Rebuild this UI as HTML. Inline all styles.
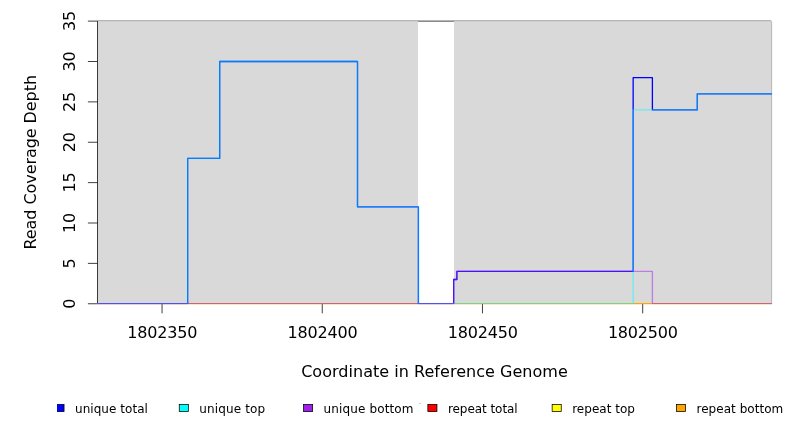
<!DOCTYPE html>
<html lang="en"><head><meta charset="utf-8"><title>Read Coverage Depth</title>
<style>html,body{margin:0;padding:0;background:#fff}svg{display:block}</style></head>
<body>
<svg width="792" height="432" viewBox="0 0 792 432">
<rect width="792" height="432" fill="#fff"/>
<path d="M97.50 21.12H771.15M771.55 21.43V303.75" fill="none" stroke="#000" stroke-width="0.75"/>
<rect x="97.50" y="21.12" width="320.50" height="282.62" fill="#d9d9d9"/>
<rect x="454.00" y="21.12" width="317.80" height="282.62" fill="#d9d9d9"/>
<g stroke="#000" stroke-width="0.75" fill="none">
<path d="M97.50 21.12V303.75"/>
<path d="M97.50 303.75H87.90"/>
<path d="M97.50 263.38H87.90"/>
<path d="M97.50 223.00H87.90"/>
<path d="M97.50 182.62H87.90"/>
<path d="M97.50 142.25H87.90"/>
<path d="M97.50 101.88H87.90"/>
<path d="M97.50 61.50H87.90"/>
<path d="M97.50 21.12H87.90"/>
<path d="M162.05 303.75V313.35"/>
<path d="M322.26 303.75V313.35"/>
<path d="M482.48 303.75V313.35"/>
<path d="M642.69 303.75V313.35"/>
</g>
<clipPath id="pc"><rect x="97.50" y="19.12" width="674.45" height="284.88"/></clipPath>
<g clip-path="url(#pc)" fill="none" stroke-width="1.30" stroke-linejoin="round">
<path d="M97.50 303.75H773.65" stroke="#ff0000"/>
<path d="M97.50 303.75H773.65" stroke="#ffff00"/>
<path d="M97.50 303.75H773.65" stroke="#ffa500"/>
<path d="M97.50 303.75H187.63V158.40H219.68V61.50H357.51V206.85H418.41V303.75H453.66V279.52H456.87V271.45H633.15V77.65H652.39V109.95H697.26V93.80H773.65" stroke="#0000ff"/>
<path d="M97.50 303.75H187.63V158.40H219.68V61.50H357.51V206.85H418.41V303.75H633.15V109.95H697.26V93.80H773.65" stroke="#00ffff" stroke-opacity="0.5"/>
<path d="M97.50 303.75H453.66V279.52H456.87V271.45H652.39V303.75H773.65" stroke="#a020f0" stroke-opacity="0.5"/>
</g>
<rect x="97.50" y="304" width="674.45" height="1" fill="#ff0000" fill-opacity="0.070"/>
<rect x="97.50" y="304" width="674.45" height="1" fill="#ffff00" fill-opacity="0.070"/>
<rect x="97.50" y="304" width="674.45" height="1" fill="#ffa500" fill-opacity="0.070"/>
<rect x="97.50" y="304" width="90.13" height="1" fill="#0000ff" fill-opacity="0.070"/>
<rect x="418.41" y="304" width="35.26" height="1" fill="#0000ff" fill-opacity="0.070"/>
<rect x="97.50" y="304" width="90.13" height="1" fill="#00ffff" fill-opacity="0.035"/>
<rect x="418.41" y="304" width="214.75" height="1" fill="#00ffff" fill-opacity="0.035"/>
<rect x="97.50" y="304" width="356.16" height="1" fill="#a020f0" fill-opacity="0.035"/>
<rect x="652.39" y="304" width="119.56" height="1" fill="#a020f0" fill-opacity="0.035"/>
<g font-family="'DejaVu Sans', 'Liberation Sans', sans-serif" fill="#000">
<g font-size="16" text-anchor="middle">
<text x="162.25" y="338" letter-spacing="-0.180">1802350</text>
<text x="322.46" y="338" letter-spacing="-0.180">1802400</text>
<text x="482.68" y="338" letter-spacing="-0.180">1802450</text>
<text x="642.89" y="338" letter-spacing="-0.180">1802500</text>
<text transform="translate(75 303.75) rotate(-90)" letter-spacing="-0.180">0</text>
<text transform="translate(75 263.38) rotate(-90)" letter-spacing="-0.180">5</text>
<text transform="translate(75 223.00) rotate(-90)" letter-spacing="-0.180">10</text>
<text transform="translate(75 182.62) rotate(-90)" letter-spacing="-0.180">15</text>
<text transform="translate(75 142.25) rotate(-90)" letter-spacing="-0.180">20</text>
<text transform="translate(75 101.88) rotate(-90)" letter-spacing="-0.180">25</text>
<text transform="translate(75 61.50) rotate(-90)" letter-spacing="-0.180">30</text>
<text transform="translate(75 21.12) rotate(-90)" letter-spacing="-0.180">35</text>
<text x="434.5" y="377" letter-spacing="0.031">Coordinate in Reference Genome</text>
<text transform="translate(36.1 162.3) rotate(-90)" letter-spacing="-0.065">Read Coverage Depth</text>
</g>
<g font-size="12">
<clipPath id="c"><rect x="57" y="400" width="20" height="20"/></clipPath>
<rect clip-path="url(#c)" x="54.95" y="404.4" width="9.1" height="7.2" fill="#0000ff" stroke="#000" stroke-width="0.75"/>
<text x="75.00" y="413" letter-spacing="0.050">unique total</text>
<rect x="179.25" y="404.4" width="9.1" height="7.2" fill="#00ffff" stroke="#000" stroke-width="0.75"/>
<text x="199.30" y="413" letter-spacing="0.137">unique top</text>
<rect x="303.55" y="404.4" width="9.1" height="7.2" fill="#a020f0" stroke="#000" stroke-width="0.75"/>
<text x="323.60" y="413" letter-spacing="0.126">unique bottom</text>
<rect x="427.85" y="404.4" width="9.1" height="7.2" fill="#ff0000" stroke="#000" stroke-width="0.75"/>
<text x="447.90" y="413" letter-spacing="-0.052">repeat total</text>
<rect x="552.15" y="404.4" width="9.1" height="7.2" fill="#ffff00" stroke="#000" stroke-width="0.75"/>
<text x="572.20" y="413" letter-spacing="0.015">repeat top</text>
<rect x="676.45" y="404.4" width="9.1" height="7.2" fill="#ffa500" stroke="#000" stroke-width="0.75"/>
<text x="696.50" y="413" letter-spacing="0.032">repeat bottom</text>
</g></g>
<rect x="419" y="403" width="2" height="1" fill="#d2d2d2"/>
</svg>
</body></html>
